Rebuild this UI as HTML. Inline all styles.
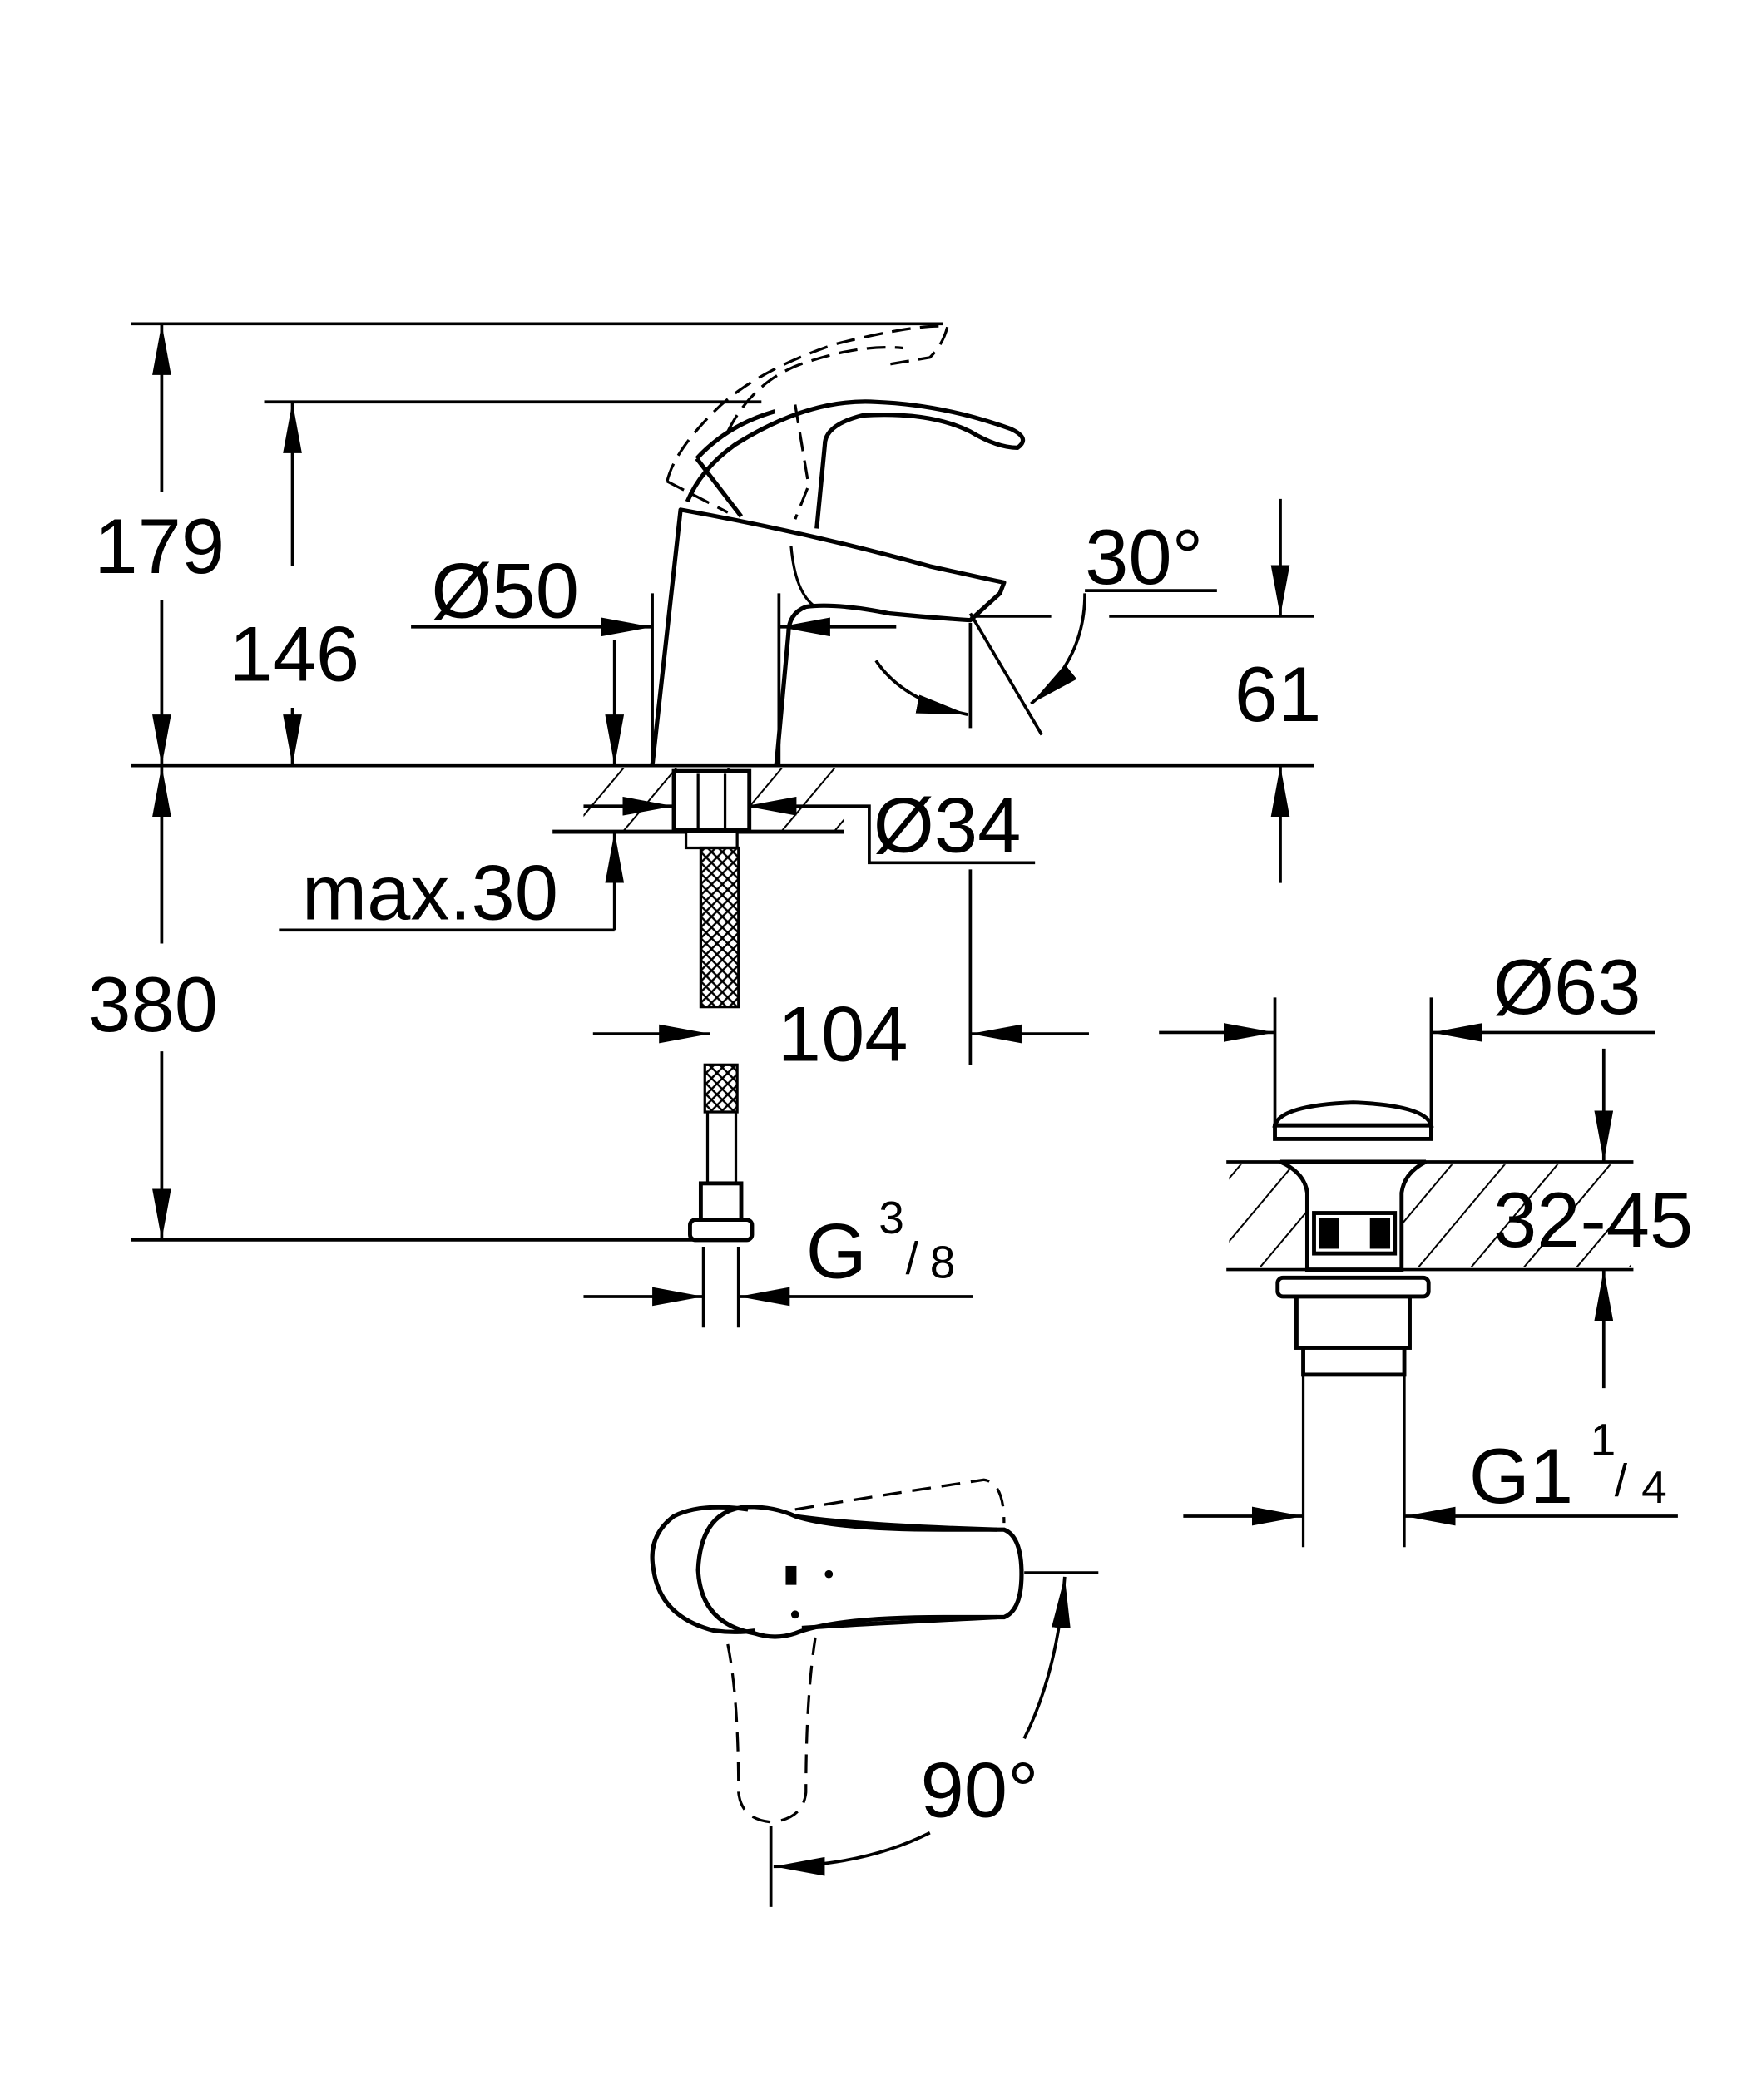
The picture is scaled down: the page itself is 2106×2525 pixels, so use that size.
<!DOCTYPE html>
<html><head><meta charset="utf-8"><style>
html,body{margin:0;padding:0;background:#fff}
svg{display:block}
text{font-family:"Liberation Sans Narrow","Liberation Sans",sans-serif;fill:#000}
</style></head><body>
<svg width="2106" height="2525" viewBox="0 0 1300 1558" xmlns="http://www.w3.org/2000/svg">
<defs>
<marker id="a" markerUnits="userSpaceOnUse" markerWidth="40" markerHeight="14" refX="38" refY="7" orient="auto"><path d="M0,0 L38,7 L0,14 Z" fill="#000"/></marker>
<pattern id="h" patternUnits="userSpaceOnUse" width="30" height="30" patternTransform="rotate(40)"><line x1="0" y1="0" x2="0" y2="30" stroke="#000" stroke-width="2.5"/></pattern>
<pattern id="x" patternUnits="userSpaceOnUse" width="8" height="8"><path d="M0,0 L8,8 M8,0 L0,8" stroke="#000" stroke-width="1.5"/></pattern>
</defs>
<g fill="none" stroke="#000" stroke-width="2.3">
<line x1="97" y1="240" x2="700" y2="240"/>
<line x1="196" y1="298" x2="565" y2="298"/>
<line x1="97" y1="568" x2="975" y2="568"/>
<line x1="97" y1="920" x2="520" y2="920"/>
<line x1="120" y1="365" x2="120" y2="240" marker-end="url(#a)"/>
<line x1="120" y1="445" x2="120" y2="568" marker-end="url(#a)"/>
<line x1="217" y1="420" x2="217" y2="298" marker-end="url(#a)"/>
<line x1="217" y1="525" x2="217" y2="568" marker-end="url(#a)"/>
<line x1="120" y1="700" x2="120" y2="568" marker-end="url(#a)"/>
<line x1="120" y1="780" x2="120" y2="920" marker-end="url(#a)"/>
<line x1="305" y1="465" x2="484" y2="465" marker-end="url(#a)"/>
<line x1="665" y1="465" x2="578" y2="465" marker-end="url(#a)"/>
<line x1="484" y1="440" x2="484" y2="568"/>
<line x1="578" y1="440" x2="578" y2="568"/>
<line x1="456" y1="475" x2="456" y2="568" marker-end="url(#a)"/>
<line x1="456" y1="690" x2="456" y2="617" marker-end="url(#a)"/>
<line x1="207" y1="690" x2="456" y2="690"/>
<line x1="433" y1="598" x2="500" y2="598" marker-end="url(#a)"/>
<line x1="600" y1="598" x2="553" y2="598" marker-end="url(#a)"/>
<polyline points="600,598 645,598 645,640 768,640"/>
<line x1="440" y1="767" x2="527" y2="767" marker-end="url(#a)"/>
<line x1="808" y1="767" x2="720" y2="767" marker-end="url(#a)"/>
<line x1="720" y1="645" x2="720" y2="790"/>
<line x1="720" y1="462" x2="720" y2="540"/>
<line x1="720" y1="457" x2="780" y2="457"/>
<line x1="823" y1="457" x2="975" y2="457"/>
<line x1="805" y1="438" x2="903" y2="438"/>
<line x1="720" y1="455" x2="773" y2="545"/>
<path d="M805,440 Q805,490 765,522" marker-end="url(#a)"/>
<path d="M650,490 Q670,520 718,530" marker-end="url(#a)"/>
<line x1="950" y1="370" x2="950" y2="457" marker-end="url(#a)"/>
<line x1="950" y1="655" x2="950" y2="568" marker-end="url(#a)"/>
<line x1="946" y1="740" x2="946" y2="835"/>
<line x1="1062" y1="740" x2="1062" y2="835"/>
<line x1="860" y1="766" x2="946" y2="766" marker-end="url(#a)"/>
<line x1="1228" y1="766" x2="1062" y2="766" marker-end="url(#a)"/>
<line x1="910" y1="862" x2="1212" y2="862"/>
<line x1="910" y1="942" x2="1212" y2="942"/>
<line x1="1190" y1="778" x2="1190" y2="862" marker-end="url(#a)"/>
<line x1="1190" y1="1030" x2="1190" y2="942" marker-end="url(#a)"/>
<line x1="878" y1="1125" x2="967" y2="1125" marker-end="url(#a)"/>
<line x1="1245" y1="1125" x2="1042" y2="1125" marker-end="url(#a)"/>
<line x1="433" y1="962" x2="522" y2="962" marker-end="url(#a)"/>
<line x1="722" y1="962" x2="548" y2="962" marker-end="url(#a)"/>
<line x1="522" y1="925" x2="522" y2="985"/>
<line x1="548" y1="925" x2="548" y2="985"/>
<line x1="760" y1="1167" x2="815" y2="1167"/>
<path d="M760,1290 Q785,1240 790,1170" marker-end="url(#a)"/>
<path d="M690,1360 Q640,1385 574,1385" marker-end="url(#a)"/>
<line x1="572" y1="1355" x2="572" y2="1415"/>
</g>
<g fill="none" stroke="#000" stroke-width="3.2" stroke-linejoin="round">
<path d="M484,568 L505,378 Q600,395 690,420 Q735,430 745,432 L742,440 L720,460 Q690,458 660,455 Q620,447 598,450 Q585,455 585,470 L576,568"/>
<path d="M587,405 Q590,440 605,450" stroke-width="2"/>
<path d="M510,372 Q520,348 545,330 Q600,295 650,298 Q700,300 750,318 Q765,325 755,332 Q740,332 720,320 Q690,305 640,308 Q612,315 612,330 L606,392"/>
<path d="M517,340 L550,383" />
<path d="M517,340 Q540,315 575,305"/>
<g stroke-dasharray="14,7" stroke-width="2">
<path d="M495,357 Q500,335 530,305 Q560,275 620,255 Q680,240 703,242 Q700,255 690,265 L660,270"/>
<path d="M495,357 L540,380"/>
<path d="M540,320 Q560,280 600,268 Q640,255 670,258"/>
<path d="M590,300 L600,360 L590,385"/>
</g>
</g>
<g stroke="#000" stroke-width="2">
<rect x="433" y="570" width="193" height="46" fill="url(#h)" stroke="none"/>
<line x1="410" y1="617" x2="626" y2="617" stroke-width="3"/>
<rect x="500" y="572" width="56" height="44" fill="#fff" stroke-width="3"/>
<line x1="518" y1="574" x2="518" y2="616"/>
<line x1="538" y1="574" x2="538" y2="616"/>
<rect x="509" y="617" width="38" height="12" fill="#fff"/>
<rect x="520" y="629" width="28" height="118" fill="url(#x)" stroke-width="2"/>
<rect x="523" y="790" width="24" height="35" fill="url(#x)"/>
<line x1="525" y1="825" x2="525" y2="880"/><line x1="546" y1="825" x2="546" y2="880"/>
<rect x="520" y="878" width="30" height="28" fill="#fff" stroke-width="3"/>
<rect x="512" y="905" width="46" height="15" rx="4" fill="#fff" stroke-width="3"/>
</g>
<g stroke="#000" stroke-width="3" fill="#fff">
<rect x="912" y="864" width="298" height="76" fill="url(#h)" stroke="none"/>
<path d="M946,835 Q950,820 1004,818 Q1058,820 1062,835 Z"/>
<rect x="946" y="835" width="116" height="10"/>
<path d="M950,862 Q968,870 970,885 L970,942 L1040,942 L1040,885 Q1042,870 1058,862 Z"/>
<rect x="975" y="900" width="60" height="30" fill="#fff"/>
<rect x="980" y="905" width="12" height="20" fill="#000"/><rect x="1018" y="905" width="12" height="20" fill="#000"/>
<rect x="948" y="948" width="112" height="14" rx="4"/>
<rect x="962" y="962" width="84" height="38"/>
<rect x="967" y="1000" width="75" height="20"/>
<line x1="967" y1="1020" x2="967" y2="1148" stroke-width="2"/>
<line x1="1042" y1="1020" x2="1042" y2="1148" stroke-width="2"/>
</g>
<g fill="none" stroke="#000" stroke-width="3.2">
<path d="M555,1120 Q520,1115 500,1125 Q480,1140 485,1165 Q490,1200 530,1210 Q545,1212 560,1210"/>
<path d="M555,1118 Q575,1118 590,1125 Q620,1135 700,1135 L745,1135 Q758,1140 758,1168 Q758,1195 745,1200 L700,1200 Q620,1200 590,1212 Q575,1217 560,1212 Q520,1205 518,1165 Q520,1120 555,1118 Z"/>
<path d="M590,1125 Q640,1132 740,1135"/>
<path d="M595,1208 Q640,1205 740,1200"/>
<g stroke-dasharray="14,8" stroke-width="2">
<path d="M590,1120 Q650,1110 730,1098 Q745,1100 745,1130"/>
<path d="M540,1220 Q548,1260 548,1330 Q550,1350 572,1352 Q596,1350 598,1330 Q598,1260 605,1215"/>
</g>
</g>
<rect x="583" y="1162" width="8" height="14" fill="#000"/>
<circle cx="615" cy="1168" r="3" fill="#000"/>
<circle cx="590" cy="1198" r="3" fill="#000"/>
<g font-size="58">
<text x="70" y="425">179</text>
<text x="170" y="505">146</text>
<text x="65" y="765">380</text>
<text x="320" y="458">Ø50</text>
<text x="224" y="682">max.30</text>
<text x="648" y="632">Ø34</text>
<text x="577" y="787">104</text>
<text x="805" y="433">30°</text>
<text x="916" y="535">61</text>
<text x="1108" y="752">Ø63</text>
<text x="1108" y="925">32-45</text>
<text x="598" y="948">G</text>
<text x="1090" y="1115">G1</text>
<text x="683" y="1348">90°</text>
</g>
<g font-size="34">
<text x="652" y="915">3</text><text x="672" y="945">/</text><text x="690" y="948">8</text>
<text x="1180" y="1080">1</text><text x="1198" y="1110">/</text><text x="1218" y="1115">4</text>
</g>
</svg>
</body></html>
